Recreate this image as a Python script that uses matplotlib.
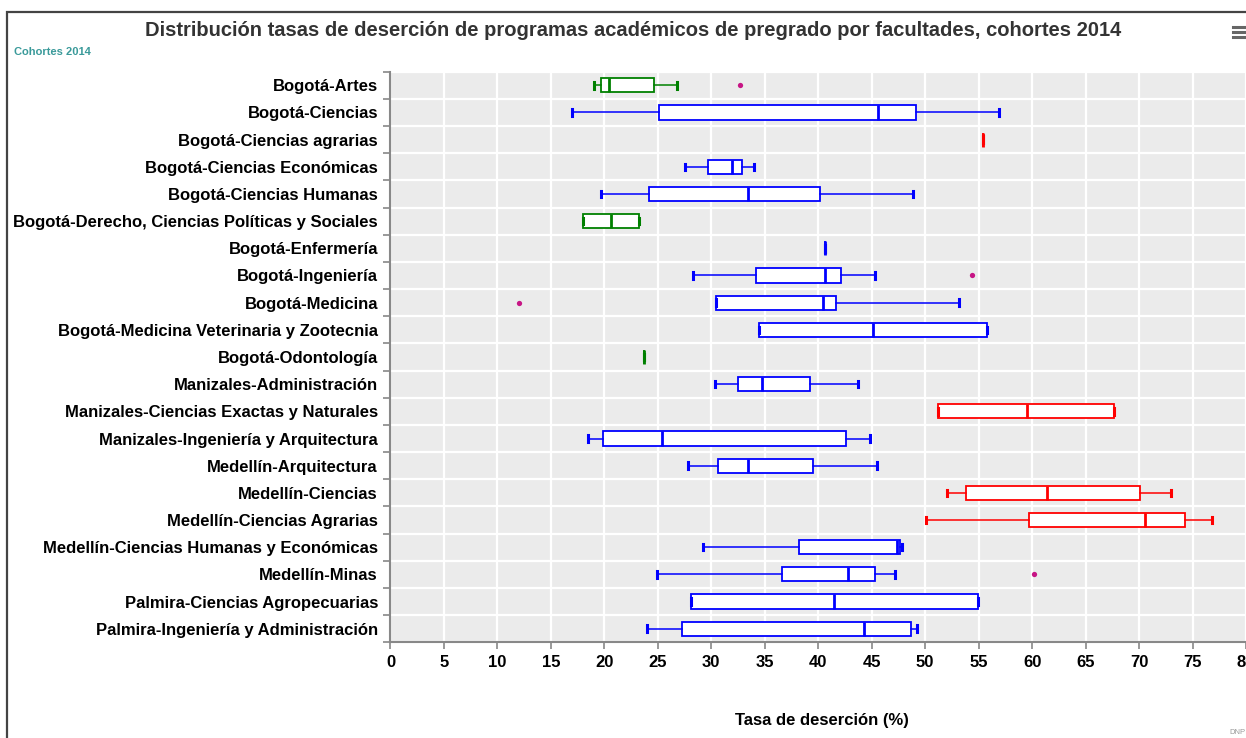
import matplotlib
matplotlib.use("Agg")
import matplotlib.pyplot as plt
from matplotlib.patches import Rectangle
from matplotlib.lines import Line2D

plt.rcParams['font.family'] = ['Liberation Sans', 'DejaVu Sans']

categories = [
    "Bogotá-Artes",
    "Bogotá-Ciencias",
    "Bogotá-Ciencias agrarias",
    "Bogotá-Ciencias Económicas",
    "Bogotá-Ciencias Humanas",
    "Bogotá-Derecho, Ciencias Políticas y Sociales",
    "Bogotá-Enfermería",
    "Bogotá-Ingeniería",
    "Bogotá-Medicina",
    "Bogotá-Medicina Veterinaria y Zootecnia",
    "Bogotá-Odontología",
    "Manizales-Administración",
    "Manizales-Ciencias Exactas y Naturales",
    "Manizales-Ingeniería y Arquitectura",
    "Medellín-Arquitectura",
    "Medellín-Ciencias",
    "Medellín-Ciencias Agrarias",
    "Medellín-Ciencias Humanas y Económicas",
    "Medellín-Minas",
    "Palmira-Ciencias Agropecuarias",
    "Palmira-Ingeniería y Administración",
]

whislo = [19.0, 17.0, 55.4, 27.5, 19.7, 18.0, 40.6, 28.3, 30.4, 34.5, 23.7,
          30.3, 51.2, 18.5, 27.8, 52.0, 50.1, 29.2, 24.9, 28.1, 24.0]
q1     = [19.7, 25.1, 55.4, 29.7, 24.2, 18.0, 40.6, 34.2, 30.4, 34.5, 23.7,
          32.5, 51.2, 19.9, 30.6, 53.8, 59.7, 38.2, 36.6, 28.1, 27.3]
med    = [20.4, 45.6, 55.4, 31.9, 33.4, 20.6, 40.6, 40.6, 40.4, 45.1, 23.7,
          34.7, 59.5, 25.4, 33.4, 61.4, 70.6, 47.4, 42.8, 41.5, 44.3]
q3     = [24.6, 49.1, 55.4, 32.9, 40.2, 23.2, 40.6, 42.1, 41.7, 55.8, 23.7,
          39.2, 67.7, 42.6, 39.5, 70.1, 74.3, 47.6, 45.3, 54.9, 48.7]
whishi = [26.8, 56.9, 55.4, 34.0, 48.9, 23.2, 40.6, 45.3, 53.2, 55.8, 23.7,
          43.7, 67.7, 44.8, 45.5, 73.0, 76.8, 47.8, 47.2, 54.9, 49.2]
outliers = [[32.7], [], [], [], [], [], [], [54.4], [12.0], [], [],
            [], [], [], [], [], [], [], [60.2], [], []]

x_ticks = list(range(0, 81, 5))

title = "Distribución tasas de deserción de programas académicos de pregrado por facultades, cohortes 2014"
subtitle = "Cohortes 2014"
xlabel = "Tasa de deserción (%)"
credit = "DNP"


def box_color(m):
    if m < 25:
        return "#008000"
    if m > 55:
        return "#ff0000"
    return "#0000ff"


W, H = 1246, 738
fig = plt.figure(figsize=(W / 100, H / 100), dpi=100)
fig.patch.set_facecolor("white")

ax_left, ax_right = 390.5, 1246.0
ax_top, ax_bot = 71.7, 642.3
ax = fig.add_axes([ax_left / W, 1 - ax_bot / H, (ax_right - ax_left) / W, (ax_bot - ax_top) / H])
ax.set_facecolor("#EBEBEB")

n = len(categories)
positions = list(range(n))
for i in range(n):
    c = box_color(med[i])
    st = dict(whislo=whislo[i], q1=q1[i], med=med[i], q3=q3[i], whishi=whishi[i], fliers=[])
    ax.bxp([st], positions=[i], vert=False, widths=0.52, capwidths=0.24,
           showfliers=False, patch_artist=True,
           boxprops=dict(facecolor="white", edgecolor=c, linewidth=1.3),
           medianprops=dict(color=c, linewidth=2.0),
           whiskerprops=dict(color=c, linewidth=1.1),
           capprops=dict(color=c, linewidth=2.2),
           manage_ticks=False, zorder=3)
    if outliers[i]:
        ax.plot(outliers[i], [i] * len(outliers[i]), "o", color="#c71585",
                markersize=3.8, markeredgewidth=0, zorder=4)

ax.set_xlim(0, 80)
ax.set_ylim(n - 0.5, -0.5)
ax.set_xticks(x_ticks)
ax.set_xticklabels([str(t) for t in x_ticks], fontsize=12, fontweight="bold")
ax.set_yticks(positions)
ax.set_yticklabels(categories, fontsize=12, fontweight="bold")
ax.set_yticks([i - 0.5 for i in range(n + 1)], minor=True)
ax.tick_params(axis="y", which="major", length=0, pad=9)
ax.tick_params(axis="y", which="minor", length=5, color="#888888", width=1.2)
ax.tick_params(axis="x", which="major", length=5, color="#888888", width=1.2, pad=4)
ax.grid(axis="x", which="major", color="white", linewidth=1.6, zorder=0)
ax.grid(axis="y", which="minor", color="white", linewidth=1.6, zorder=0)
ax.set_axisbelow(True)
for s in ["top", "right"]:
    ax.spines[s].set_visible(False)
for s in ["left", "bottom"]:
    ax.spines[s].set_color("#888888")
    ax.spines[s].set_linewidth(1.5)

fig.text(633 / W, 1 - 30 / H, title, ha="center", va="center", fontsize=14.5,
         fontweight="bold", color="#333333")
fig.text(14 / W, 1 - 52 / H, subtitle, ha="left", va="center", fontsize=8,
         fontweight="bold", color="#3A9A9A")
fig.text(822 / W, 1 - 720 / H, xlabel,
         ha="center", va="center", fontsize=12, fontweight="bold", color="black")
fig.text(1237 / W, 1 - 733 / H, credit, ha="center", va="center", fontsize=5.5,
         color="#999999")

# menu icon
for yy in (27, 32, 37):
    fig.add_artist(Line2D([1233 / W, 1246 / W], [1 - yy / H, 1 - yy / H],
                          color="#666666", linewidth=2.2, transform=fig.transFigure))

# outer frame
fig.add_artist(Rectangle((6.5 / W, -0.2), 1.5, 1.2 - 11.5 / H, transform=fig.transFigure,
                         fill=False, edgecolor="#444444", linewidth=1.6))

fig.savefig("out.png", dpi=100, facecolor="white")
